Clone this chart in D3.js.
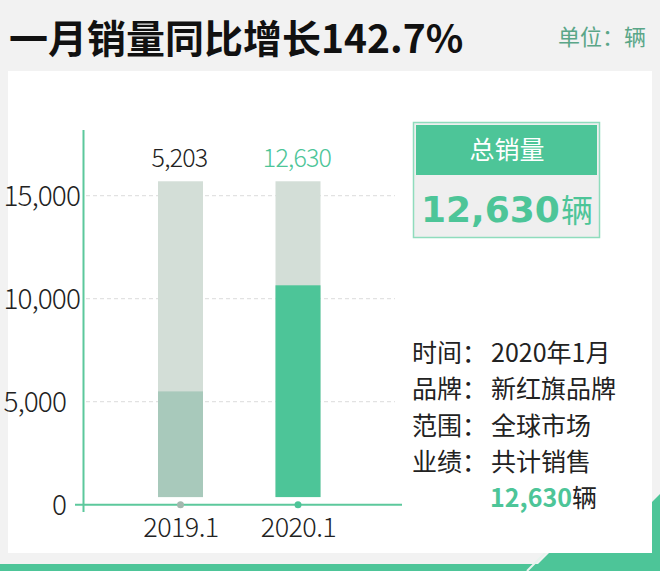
<!DOCTYPE html>
<html><head><meta charset="utf-8">
<script src="https://cdn.jsdelivr.net/npm/d3@7"></script>
<style>
html,body{margin:0;padding:0;background:#f2f2f2;}
svg{display:block;}
text{font-family:"Noto Sans CJK SC","Noto Sans",sans-serif;}
</style></head>
<body>
<svg id="c" width="660" height="571"></svg>
<script>
// ---- data ----
const categories = ["2019.1", "2020.1"];
const salesValues = [5203, 12630];          // labels above bars
const barTopValues = [5500, 10650];         // bar tops as read against the axis
const barBaseValue = 370;                   // bars start slightly above zero line
const backgroundTopValue = 15700;           // light background bar top
const yTicks = [0, 5000, 10000, 15000];
const title = "一月销量同比增长142.7%";
const unitText = "单位：辆";
const boxTitle = "总销量";
const totalSales = 12630;
const infoLabels = ["时间：", "品牌：", "范围：", "业绩："];
const infoValues = ["2020年1月", "新红旗品牌", "全球市场", "共计销售"];

const green = "#4dc598";
const fmt = d3.format(",");
const svg = d3.select("#c");

// background panel & decoration
svg.append("rect").attr("x",0).attr("y",0).attr("width",660).attr("height",571).attr("fill","#f2f2f2");
svg.append("polygon").attr("points","660,494 652,502 652,553 549,553 531,571 660,571").attr("fill",green);
svg.append("rect").attr("x",0).attr("y",564).attr("width",660).attr("height",7).attr("fill",green);
svg.append("line").attr("x1",545).attr("y1",553).attr("x2",527).attr("y2",571).attr("stroke","#e8f3ee").attr("stroke-width",2);
svg.append("rect").attr("x",8).attr("y",71).attr("width",644).attr("height",482).attr("fill","#ffffff");

// title
svg.append("text").attr("x",9).attr("y",53).attr("font-size",39).attr("font-weight",700).attr("fill","#111").text(title);
svg.append("text").attr("x",646).attr("y",45).attr("text-anchor","end").attr("font-size",22).attr("fill","#5aa688").text(unitText);

// scales
const y = d3.scaleLinear().domain([0, 15000]).range([504.7, 195.7]);
const x = d3.scalePoint().domain(categories).range([180.5, 298]);
const barW = 45;

// gridlines
svg.append("g").selectAll("line").data(yTicks.filter(d=>d>0)).join("line")
  .attr("x1",86).attr("x2",395).attr("y1",d=>y(d)).attr("y2",d=>y(d))
  .attr("stroke","#e2e2e2").attr("stroke-width",1.2).attr("stroke-dasharray","4,3");

// y axis labels via d3 axis
const yAxis = svg.append("g").attr("transform","translate(80,0)")
  .call(d3.axisLeft(y).tickValues(yTicks).tickFormat(fmt).tickSize(0).tickPadding(0));
yAxis.select(".domain").remove();
yAxis.selectAll("text").attr("font-size",28).attr("font-weight",300).attr("fill","#222")
  .attr("font-family","'Noto Sans CJK SC',sans-serif")
  .attr("letter-spacing","-0.9")
  .attr("x",d=> d>=10000 ? 0 : -14).attr("dy","0.34em");

// bars
const bars = svg.append("g");
bars.selectAll("rect.bg").data(categories).join("rect").attr("class","bg")
  .attr("x",d=>x(d)-barW/2).attr("width",barW)
  .attr("y",y(backgroundTopValue)).attr("height",y(barBaseValue)-y(backgroundTopValue))
  .attr("fill","#d3ded7");
bars.selectAll("rect.fg").data(barTopValues).join("rect").attr("class","fg")
  .attr("x",(d,i)=>x(categories[i])-barW/2).attr("width",barW)
  .attr("y",d=>y(d)).attr("height",d=>y(barBaseValue)-y(d))
  .attr("fill",(d,i)=> i===0 ? "#a8c9bb" : green);

// value labels
svg.append("g").selectAll("text").data(salesValues).join("text")
  .attr("x",(d,i)=>x(categories[i])-1).attr("y",167)
  .attr("text-anchor","middle").attr("font-size",25).attr("font-weight",300)
  .attr("letter-spacing","-0.8")
  .attr("fill",(d,i)=> i===0 ? "#222" : green).text(d=>fmt(d));

// axes lines
svg.append("line").attr("x1",83.5).attr("x2",83.5).attr("y1",130).attr("y2",512).attr("stroke","#5cc89c").attr("stroke-width",2);
svg.append("line").attr("x1",75).attr("x2",402).attr("y1",y(0)).attr("y2",y(0)).attr("stroke","#5cc89c").attr("stroke-width",2);

// x axis labels + dots
const xAxis = svg.append("g").attr("transform",`translate(0,${y(0)})`)
  .call(d3.axisBottom(x).tickSize(0).tickPadding(0));
xAxis.select(".domain").remove();
xAxis.selectAll("text").attr("font-size",27).attr("font-weight",300).attr("fill","#222")
  .attr("font-family","'Noto Sans CJK SC',sans-serif").attr("letter-spacing","-0.6")
  .attr("y",32).attr("dy",0);
svg.append("g").selectAll("circle").data(categories).join("circle")
  .attr("cx",d=>x(d)).attr("cy",y(0)).attr("r",3.5)
  .attr("fill",(d,i)=> i===0 ? "#a3b8ae" : green);

// summary box
svg.append("rect").attr("x",413.5).attr("y",122.5).attr("width",186).attr("height",115)
  .attr("fill","#efefef").attr("stroke","#8fdcbd").attr("stroke-width",1.5);
svg.append("rect").attr("x",416).attr("y",125).attr("width",181).attr("height",50).attr("fill",green);
svg.append("text").attr("x",507).attr("y",159).attr("text-anchor","middle").attr("font-size",25)
  .attr("fill","#fff").text(boxTitle);
const tot = svg.append("text").attr("x",421).attr("y",222).attr("fill",green);
tot.append("tspan").attr("font-family","'DejaVu Sans',sans-serif").attr("font-weight",700).attr("font-size",36).text(fmt(totalSales));
tot.append("tspan").attr("font-size",32).attr("dx",1).text("辆");

// info text
const info = svg.append("g");
const lh = 36.3;
infoLabels.forEach((l,i)=>{
  info.append("text").attr("x",412).attr("y",362+i*lh).attr("font-size",25).attr("fill","#222").text(l);
  info.append("text").attr("x",491).attr("y",362+i*lh).attr("font-size",25).attr("fill","#222").text(infoValues[i]);
});
const last = info.append("text").attr("x",490).attr("y",362+4*lh).attr("font-size",25).attr("fill","#222");
last.append("tspan").attr("font-weight",700).attr("fill",green).text(fmt(totalSales));
last.append("tspan").text("辆");
</script>
</body></html>
